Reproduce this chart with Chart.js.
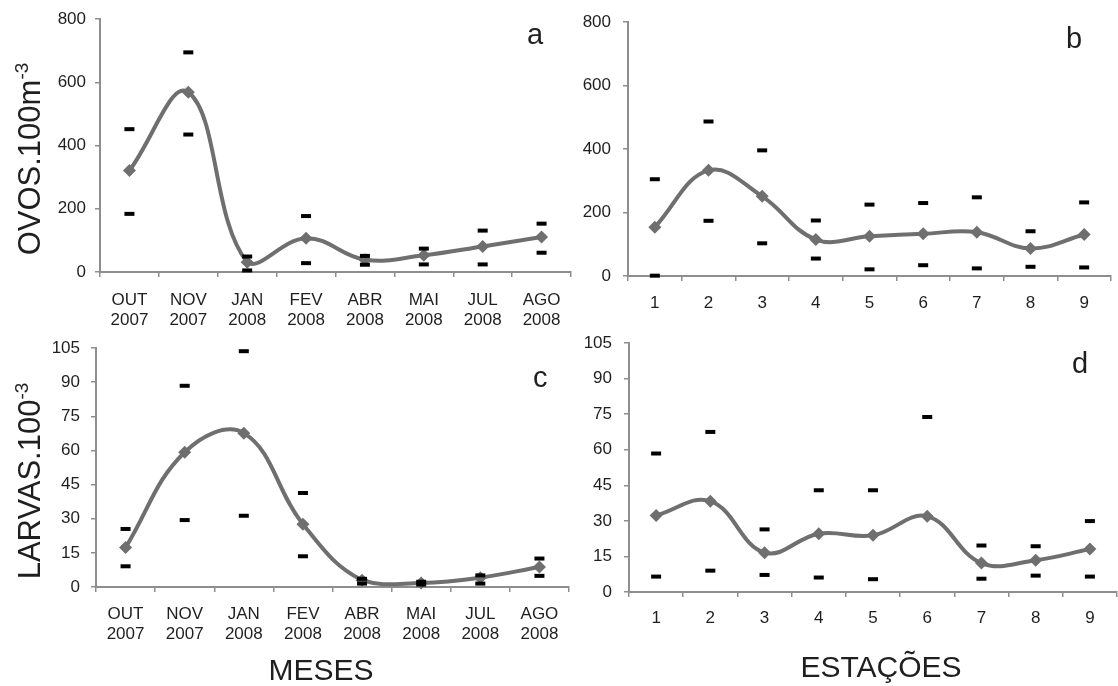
<!DOCTYPE html>
<html>
<head>
<meta charset="utf-8">
<script src="https://cdn.jsdelivr.net/npm/chart.js@4"></script>
<style>
  html, body { margin: 0; padding: 0; background: #fff; overflow: hidden; }
  body { width: 1118px; height: 686px; position: relative; font-family: 'Liberation Sans', Arial, sans-serif; color: #1f1f1f; }
  .painel { position: absolute; }
  .txt { position: absolute; line-height: 1; white-space: nowrap; }
  .letra { font-size: 29px; }
  .ytit { font-size: 31px; transform: translate(-50%, -50%) rotate(-90deg); }
  .ytit sup { font-size: 19px; vertical-align: 12px; line-height: 0; }
  .xtit { font-size: 30px; transform: translate(-50%, -50%); }
</style>
</head>
<body>

<div class="painel" style="left:0;top:0"><canvas id="ca" width="580" height="330"></canvas></div>
<div class="painel" style="left:560px;top:0"><canvas id="cb" width="560" height="330"></canvas></div>
<div class="painel" style="left:0;top:320px"><canvas id="cc" width="580" height="366"></canvas></div>
<div class="painel" style="left:560px;top:320px"><canvas id="cd" width="566" height="366"></canvas></div>

<div class="txt ytit" style="left:29px;top:159px">OVOS.100m<sup>-3</sup></div>
<div class="txt ytit" style="left:29px;top:481px">LARVAS.100<sup>-3</sup></div>
<div class="txt xtit" style="left:321px;top:670px">MESES</div>
<div class="txt xtit" style="left:881px;top:667px">ESTAÇÕES</div>
<div class="txt letra" style="left:527px;top:20px">a</div>
<div class="txt letra" style="left:1066px;top:24px">b</div>
<div class="txt letra" style="left:533px;top:363px">c</div>
<div class="txt letra" style="left:1072px;top:349px">d</div>

<script>
// ── Dados ────────────────────────────────────────────────
const meses    = [['OUT','2007'],['NOV','2007'],['JAN','2008'],['FEV','2008'],
                  ['ABR','2008'],['MAI','2008'],['JUL','2008'],['AGO','2008']];
const estacoes = ['1','2','3','4','5','6','7','8','9'];

// ovos por mês (a)
const ovosMesMedia = [321, 569, 31, 107, 39, 53, 81, 111];
const ovosMesSup   = [452, 695, 49, 177, 51, 74, 131, 153];
const ovosMesInf   = [184, 435, 5, 28, 23, 24, 24, 61];

// ovos por estação (b)
const ovosEstMedia = [154, 333, 251, 115, 125, 133, 138, 87, 131];
const ovosEstSup   = [305, 487, 396, 175, 225, 230, 248, 141, 232];
const ovosEstInf   = [1, 174, 103, 55, 21, 34, 24, 29, 27];

// larvas por mês (c)
const larvasMesMedia = [17.3, 59.2, 67.6, 27.6, 3.0, 1.8, 4.1, 8.8];
const larvasMesSup   = [25.5, 88.4, 103.6, 41.3, 3.6, 2.3, 5.1, 12.5];
const larvasMesInf   = [9.1, 29.4, 31.3, 13.5, 1.5, 1.1, 1.5, 4.9];

// larvas por estação (d)
const larvasEstMedia = [32.3, 38.3, 16.6, 24.6, 23.9, 31.9, 12.2, 13.4, 18.1];
const larvasEstSup   = [58.4, 67.5, 26.4, 42.9, 42.9, 73.8, 19.6, 19.3, 29.9];
const larvasEstInf   = [6.5, 9.0, 7.2, 6.1, 5.4, null, 5.6, 6.9, 6.5];

const ticksOvos   = { max: 800, step: 200 };
const ticksLarvas = { max: 105, step: 15 };

// ── Estilo ───────────────────────────────────────────────
const FONT   = "'Liberation Sans', Arial, sans-serif";
const EIXO   = '#8e8e8e';
const LINHA  = '#6f6f6f';
const TEXTO  = '#1f1f1f';

function tracinhos(data) {
  return {
    data, order: 0, showLine: false, clip: false,
    pointStyle: 'line', pointRadius: 5, pointBorderWidth: 4,
    borderColor: '#000', backgroundColor: '#000', pointHoverRadius: 5,
  };
}

function painel(id, labels, media, sup, inf, escala, box) {
  return new Chart(document.getElementById(id), {
    type: 'line',
    data: {
      labels,
      datasets: [
        tracinhos(sup),
        tracinhos(inf),
        {
          data: media, order: 1, clip: false,
          borderColor: LINHA, borderWidth: 4, tension: 0.4,
          pointStyle: 'rectRot', pointRadius: 6.5, pointBorderWidth: 0,
          pointBackgroundColor: LINHA, pointHoverRadius: 6.5,
        },
      ]
    },
    options: {
      responsive: false,
      animation: false,
      events: [],
      layout: { padding: { top: box.top, right: box.right, left: 0, bottom: 0 } },
      plugins: { legend: { display: false }, tooltip: { enabled: false } },
      scales: {
        x: {
          offset: true,
          grid: { offset: true, drawOnChartArea: false, drawTicks: true, tickLength: 5, color: EIXO, lineWidth: 1.5 },
          border: { color: EIXO, width: 2 },
          ticks: { color: TEXTO, font: { family: FONT, size: 17 }, padding: box.xPad, maxRotation: 0, autoSkip: false },
          afterFit: s => { s.height = box.xH; },
        },
        y: {
          min: 0, max: escala.max,
          grid: { drawOnChartArea: false, drawTicks: true, tickLength: 5, color: EIXO, lineWidth: 1.5 },
          border: { color: EIXO, width: 2 },
          ticks: { stepSize: escala.step, color: TEXTO, font: { family: FONT, size: 17 }, padding: box.yPad },
          afterFit: s => { s.width = box.yW; },
        }
      }
    }
  });
}

painel('ca', meses,    ovosMesMedia,   ovosMesSup,   ovosMesInf,   ticksOvos,
       { yW: 100, top: 17, right: 8,  xH: 58, xPad: 13, yPad: 9 });
painel('cb', estacoes, ovosEstMedia,   ovosEstSup,   ovosEstInf,   ticksOvos,
       { yW: 68,  top: 20, right: 1,  xH: 54, xPad: 12, yPad: 12 });
painel('cc', meses,    larvasMesMedia, larvasMesSup, larvasMesInf, ticksLarvas,
       { yW: 96,  top: 28, right: 11, xH: 99, xPad: 12, yPad: 11 });
painel('cd', estacoes, larvasEstMedia, larvasEstSup, larvasEstInf, ticksLarvas,
       { yW: 69,  top: 23, right: 2,  xH: 94, xPad: 11, yPad: 12 });
</script>
</body>
</html>
